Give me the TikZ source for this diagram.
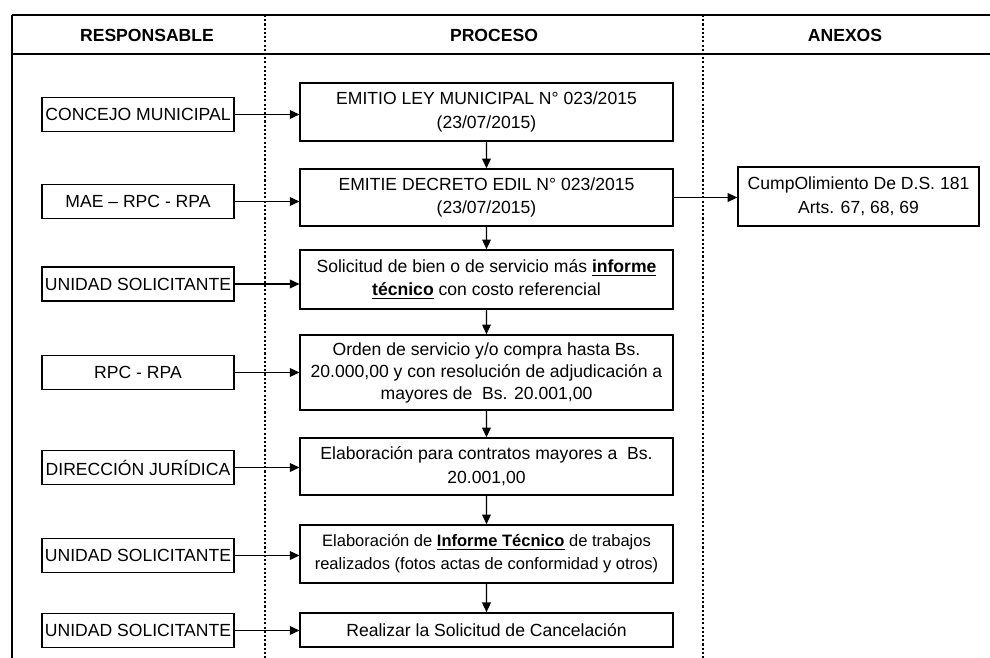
\documentclass[tikz,border=0pt]{standalone}
\usepackage{fontspec}
\setmainfont{Liberation Sans}
\usetikzlibrary{arrows.meta,positioning}

\begin{document}
\begin{tikzpicture}[scale=0.2,
  resp/.style={draw=black,line width=0.9pt,minimum width=109pt,minimum height=19.5pt,font=\fontsize{10}{12}\selectfont},
  proc/.style={draw=black,line width=0.9pt,minimum width=212pt,align=center,font=\fontsize{10}{13.5}\selectfont},
  flow/.style={-{Triangle[length=5.5pt,width=5pt]},line width=0.7pt}]
\tikzstyle{every node}+=[inner sep=1pt]
\useasboundingbox (0,0) rectangle (99,-65.8);
\draw [black,line width=1.3pt] (1.2,-1.5) -- (99,-1.5);
\draw [black,line width=1.1pt] (1.2,-5.4) -- (99,-5.4);
\draw [black,line width=1pt] (1.2,-1.5) -- (1.2,-65.8);
\draw [black,dash pattern=on 1.2pt off 1.2pt,line width=0.6pt] (26.5,-1.5) -- (26.5,-65.8);
\draw [black,dash pattern=on 1.2pt off 1.2pt,line width=0.6pt] (70.3,-1.5) -- (70.3,-65.8);
\node (hresp) at (14.7,-3.5) {\fontsize{10}{12}\selectfont\textbf{RESPONSABLE}};
\node (hproc) at (49.4,-3.5) {\fontsize{10}{12}\selectfont\textbf{PROCESO}};
\node (hanx) at (84.5,-3.5) {\fontsize{10}{12}\selectfont\textbf{ANEXOS}};
\node [resp] (r1) at (13.8,-11.45) {CONCEJO MUNICIPAL};
\node [resp] (r2) at (13.8,-20.15) {MAE -- RPC - RPA};
\node [resp] (r3) at (13.8,-28.4) {UNIDAD SOLICITANTE};
\node [resp] (r4) at (13.8,-37.25) {RPC - RPA};
\node [resp] (r5) at (13.8,-46.75) {DIRECCIÓN JURÍDICA};
\node [resp] (r6) at (13.8,-55.55) {UNIDAD SOLICITANTE};
\node [resp] (r7) at (13.8,-63.05) {UNIDAD SOLICITANTE};
\node [proc,minimum height=33pt] (p1) at (48.65,-11.2) {EMITIO LEY MUNICIPAL N° 023/2015\\(23/07/2015)};
\node [proc,minimum height=32.4pt] (p2) at (48.65,-19.75) {EMITIE DECRETO EDIL N° 023/2015\\(23/07/2015)};
\node [proc,minimum height=33.6pt] (p3) at (48.65,-27.95) {Solicitud de bien o de servicio más \underline{\textbf{informe}}\\\underline{\textbf{técnico}} con costo referencial};
\node [proc,minimum height=42.7pt,font=\fontsize{10}{12.5}\selectfont] (p4) at (48.65,-37.25) {Orden de servicio y/o compra hasta Bs.\\20.000,00 y con resolución de adjudicación a\\mayores de\ \ Bs. 20.001,00};
\node [proc,minimum height=32.4pt] (p5) at (48.65,-46.65) {Elaboración para contratos mayores a\ \ Bs.\\20.001,00};
\node [proc,minimum height=33pt,font=\fontsize{9.4}{13}\selectfont] (p6) at (48.65,-55.4) {Elaboración de \underline{\textbf{Informe Técnico}} de trabajos\\realizados (fotos actas de conformidad y otros)};
\node [proc,minimum height=19.4pt] (p7) at (48.65,-63.0) {Realizar la Solicitud de Cancelación};
\node [proc,minimum width=137pt,minimum height=33.6pt] (anx) at (85.85,-19.65) {CumpOlimiento De D.S. 181\\Arts. 67, 68, 69};
\draw [flow] (r1.east) -- (r1.east -| p1.west);
\draw [flow] (r2.east) -- (r2.east -| p2.west);
\draw [flow] (r3.east) -- (r3.east -| p3.west);
\draw [flow] (r4.east) -- (r4.east -| p4.west);
\draw [flow] (r5.east) -- (r5.east -| p5.west);
\draw [flow] (r6.east) -- (r6.east -| p6.west);
\draw [flow] (r7.east) -- (r7.east -| p7.west);
\draw [flow] (p1) -- (p2);
\draw [flow] (p2) -- (p3);
\draw [flow] (p3) -- (p4);
\draw [flow] (p4) -- (p5);
\draw [flow] (p5) -- (p6);
\draw [flow] (p6) -- (p7);
\draw [flow] (p2.east) -- (p2.east -| anx.west);
\end{tikzpicture}
\end{document}
